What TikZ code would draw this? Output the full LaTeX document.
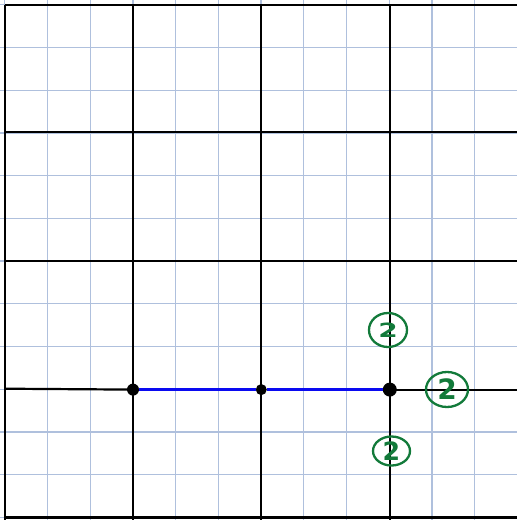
\documentclass[tikz,border=0pt]{standalone}
\usepackage{fontspec}
\setmainfont{DejaVu Sans}
\usetikzlibrary{shapes.geometric}
\definecolor{minorc}{HTML}{AFC0DD}
\definecolor{penc}{HTML}{127A3A}
\definecolor{segc}{HTML}{0A0AF0}
\tikzset{
  minorline/.style={draw=minorc, line width=1.3pt},
  majorline/.style={draw=black, line width=2.2pt},
  segline/.style={draw=segc, line width=3pt},
  dotnode/.style={circle, fill=black, inner sep=0pt, minimum size=#1},
  twomark/.style={ellipse, draw=penc, line width=2.3pt, text=penc, inner sep=0pt,
    font=\bfseries\fontsize{28}{28}\selectfont}
}
\begin{document}
\begin{tikzpicture}[x=1pt,y=-1pt]
\useasboundingbox[fill=white] (0,0) rectangle (517,520);
% minor grid
\foreach \k in {0,...,12} {
  \draw[minorline] (4.7+\k*42.73,0) -- (4.7+\k*42.73,520);
  \draw[minorline] (0,4.7+\k*42.73) -- (517,4.7+\k*42.73);
}
% major grid
\foreach \xx in {4.7,133,261.3,389.8} {
  \draw[majorline] (\xx,4.7) -- (\xx,520);
}
\foreach \yy in {4.7,131.8,261,517.5} {
  \draw[majorline] (4.7,\yy) -- (517,\yy);
}
\draw[majorline] (4.7,388.7) -- (133,389.6);
\draw[majorline] (389.8,389.6) -- (517,389.6);
% points and segment
\node[dotnode=12pt] (p1) at (133,389.6) {};
\node[dotnode=11pt] (p2) at (261.3,389.6) {};
\node[dotnode=14pt] (p3) at (389.8,389.6) {};
\draw[segline] (p1.east) -- (p2.west);
\draw[segline] (p2.east) -- (p3.west);
% circled twos
\node[twomark, minimum width=38pt, minimum height=34pt] (t1) at (388,330) {\scalebox{1}[0.7]{2}};
\node[twomark, minimum width=42pt, minimum height=35pt] (t2) at (447,389.5) {2};
\node[twomark, minimum width=37pt, minimum height=29pt] (t3) at (391.5,451) {\scalebox{0.9}[0.9]{2}};
\end{tikzpicture}
\end{document}
